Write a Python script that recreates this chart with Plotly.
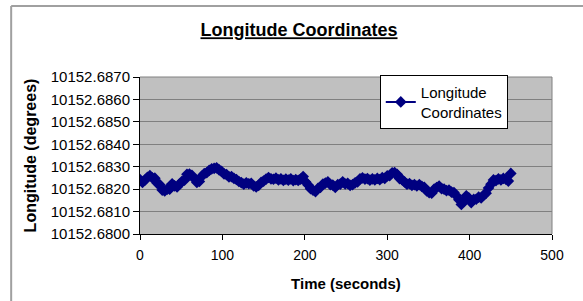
import plotly.graph_objects as go

times = list(range(0, 451, 3))
longitude = [
    10152.68243, 10152.68230, 10152.68240, 10152.68253, 10152.68260, 10152.68250, 10152.68249, 10152.68226,
    10152.68220, 10152.68196, 10152.68192, 10152.68200, 10152.68200, 10152.68224, 10152.68215, 10152.68210,
    10152.68222, 10152.68235, 10152.68240, 10152.68266, 10152.68267, 10152.68262, 10152.68246, 10152.68230,
    10152.68234, 10152.68258, 10152.68269, 10152.68273, 10152.68284, 10152.68290, 10152.68293, 10152.68295,
    10152.68286, 10152.68279, 10152.68268, 10152.68265, 10152.68255, 10152.68256, 10152.68248, 10152.68243,
    10152.68234, 10152.68229, 10152.68222, 10152.68228, 10152.68224, 10152.68226, 10152.68214, 10152.68210,
    10152.68217, 10152.68230, 10152.68236, 10152.68245, 10152.68252, 10152.68246, 10152.68244, 10152.68249,
    10152.68241, 10152.68246, 10152.68239, 10152.68245, 10152.68240, 10152.68246, 10152.68238, 10152.68242,
    10152.68239, 10152.68245, 10152.68256, 10152.68232, 10152.68219, 10152.68202, 10152.68195, 10152.68189,
    10152.68203, 10152.68208, 10152.68223, 10152.68227, 10152.68233, 10152.68220, 10152.68218, 10152.68208,
    10152.68220, 10152.68222, 10152.68233, 10152.68223, 10152.68226, 10152.68217, 10152.68220, 10152.68228,
    10152.68232, 10152.68246, 10152.68250, 10152.68245, 10152.68247, 10152.68240, 10152.68246, 10152.68241,
    10152.68248, 10152.68242, 10152.68251, 10152.68248, 10152.68259, 10152.68260, 10152.68273, 10152.68274,
    10152.68266, 10152.68247, 10152.68242, 10152.68232, 10152.68222, 10152.68225, 10152.68217, 10152.68220,
    10152.68214, 10152.68220, 10152.68212, 10152.68208, 10152.68192, 10152.68184, 10152.68182, 10152.68200,
    10152.68207, 10152.68214, 10152.68202, 10152.68200, 10152.68193, 10152.68196, 10152.68187, 10152.68185,
    10152.68170, 10152.68153, 10152.68132, 10152.68146, 10152.68170, 10152.68161, 10152.68140, 10152.68154,
    10152.68155, 10152.68164, 10152.68161, 10152.68173, 10152.68182, 10152.68205, 10152.68222, 10152.68241,
    10152.68238, 10152.68246, 10152.68241, 10152.68248, 10152.68244, 10152.68236, 10152.68270,
]

y_ticks = [10152.6800, 10152.6810, 10152.6820, 10152.6830, 10152.6840, 10152.6850, 10152.6860, 10152.6870]
x_ticks = [0, 100, 200, 300, 400, 500]

NAVY = "#000080"
FONT = "Liberation Sans, Arial, sans-serif"

fig = go.Figure()
fig.add_trace(go.Scatter(
    x=times, y=longitude, mode="lines+markers",
    name="Longitude<br>Coordinates",
    line=dict(color=NAVY, width=2),
    marker=dict(symbol="diamond", size=9, color=NAVY),
))

fig.update_layout(
    width=583, height=301,
    margin=dict(l=140, r=30.5, t=77, b=67.3),
    paper_bgcolor="white",
    plot_bgcolor="#C0C0C0",
    font=dict(family=FONT, size=14, color="black"),
    title=dict(text="<b><u>Longitude Coordinates</u></b>", x=299/583, xanchor="center",
               y=1 - 30/301, yanchor="middle", font=dict(size=18)),
    showlegend=True,
    legend=dict(x=0.582, y=1.013, xanchor="left", yanchor="top",
                bgcolor="white", bordercolor="black", borderwidth=1,
                font=dict(size=15), itemwidth=30, tracegroupgap=0),
    xaxis=dict(range=[0, 500], tickvals=x_ticks, showgrid=False, zeroline=False,
               showline=True, linecolor="black", linewidth=1,
               ticks="outside", ticklen=5, tickcolor="black", ticklabelstandoff=3,
               tickfont=dict(size=14),
               title=dict(text="<b>Time (seconds)</b>", font=dict(size=15), standoff=16)),
    yaxis=dict(range=[10152.6800, 10152.6870], tickvals=y_ticks, tickformat=".4f",
               showgrid=True, gridcolor="#808080", gridwidth=1, zeroline=False,
               showline=True, linecolor="black", linewidth=1,
               ticks="outside", ticklen=6, tickcolor="black", tickfont=dict(size=15),
               title=dict(text="<b>Longitude (degrees)</b>", font=dict(size=16), standoff=10)),
    shapes=[
        dict(type="line", xref="paper", yref="paper", x0=0, x1=1, y0=1, y1=1,
             line=dict(color="#808080", width=1), layer="above"),
        dict(type="line", xref="paper", yref="paper", x0=1, x1=1, y0=0, y1=1,
             line=dict(color="#808080", width=1), layer="above"),
        dict(type="line", xref="paper", yref="paper", x0=-0.3127, x1=1.08, y0=1.453, y1=1.453,
             line=dict(color="#A0A0A0", width=2), layer="above"),
        dict(type="line", xref="paper", yref="paper", x0=-0.3127, x1=-0.3127, y0=-0.45, y1=1.453,
             line=dict(color="#A0A0A0", width=2), layer="above"),
    ],
)

fig.write_html("out.html", config={"displayModeBar": False},
               post_script="document.body.style.margin='0';document.body.style.padding='0';")
